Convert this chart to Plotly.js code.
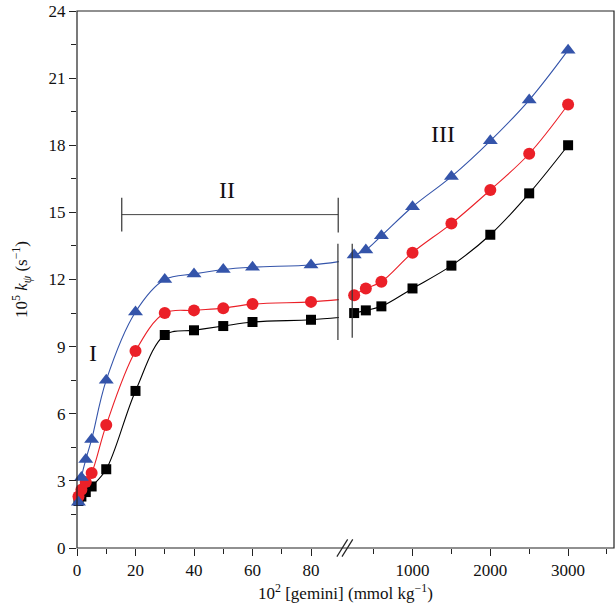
<!DOCTYPE html>
<html>
<head>
<meta charset="utf-8">
<script src="https://cdn.plot.ly/plotly-3.0.1.min.js"></script>
<style>html,body{margin:0;padding:0;background:#fff;}#chart{width:616px;height:606px;}</style>
</head>
<body>
<div id="chart"></div>
<script>
// ---- data ----
// left segment: 10^2 [gemini] 0..90
const xLeft = [0.5, 1.5, 3, 5, 10, 20, 30, 40, 50, 60, 80];
const triLeft = [2.05, 3.15, 3.95, 4.85, 7.5, 10.55, 12.0, 12.25, 12.45, 12.55, 12.65];
const cirLeft = [2.3, 2.6, 2.95, 3.35, 5.5, 8.8, 10.5, 10.62, 10.72, 10.9, 11.0];
const sqLeft  = [2.1, 2.3, 2.5, 2.75, 3.52, 7.02, 9.52, 9.73, 9.92, 10.1, 10.2];
// fitted curves continue to the break
const xLeftEnd = 89.5;
const triLeftEnd = 12.8, cirLeftEnd = 11.1, sqLeftEnd = 10.3;
// right segment
const xRight = [250, 400, 600, 1000, 1500, 2000, 2500, 3000];
const triRight = [13.1, 13.32, 13.95, 15.25, 16.6, 18.2, 20.02, 22.25];
const cirRight = [11.3, 11.6, 11.9, 13.2, 14.5, 16.0, 17.62, 19.82];
const sqRight  = [10.5, 10.62, 10.8, 11.6, 12.62, 14.0, 15.85, 18.0];

const blue = 'rgb(52,84,170)';
const red = 'rgb(235,32,40)';
const black = '#000';

function lineTrace(x, y, color, xa) {
  return {x: x, y: y, xaxis: xa, yaxis: 'y', mode: 'lines', type: 'scatter',
          line: {color: color, width: 1.1, shape: 'spline', smoothing: 1}, hoverinfo: 'skip', showlegend: false};
}
function markTrace(x, y, color, symbol, size, xa) {
  return {x: x, y: y, xaxis: xa, yaxis: 'y', mode: 'markers', type: 'scatter',
          marker: {color: color, symbol: symbol, size: size, line: {width: 0}}, showlegend: false, cliponaxis: false};
}

const traces = [
  lineTrace(xLeft.concat([xLeftEnd]), sqLeft.concat([sqLeftEnd]), black, 'x'),
  lineTrace(xLeft.concat([xLeftEnd]), cirLeft.concat([cirLeftEnd]), red, 'x'),
  lineTrace(xLeft.concat([xLeftEnd]), triLeft.concat([triLeftEnd]), blue, 'x'),
  lineTrace(xRight, sqRight, black, 'x2'),
  lineTrace(xRight, cirRight, red, 'x2'),
  lineTrace(xRight, triRight, blue, 'x2'),
  markTrace(xLeft, sqLeft, black, 'square', 10, 'x'),
  markTrace(xLeft, cirLeft, red, 'circle', 12, 'x'),
  markTrace(xLeft, triLeft, blue, 'triangle-up', 13, 'x'),
  markTrace(xRight, sqRight, black, 'square', 10, 'x2'),
  markTrace(xRight, cirRight, red, 'circle', 12, 'x2'),
  markTrace(xRight, triRight, blue, 'triangle-up', 13, 'x2')
];

const serif = 'Liberation Serif, Times New Roman, serif';
const tickFont = {family: serif, size: 17, color: '#111'};
const split = 0.4886;

const layout = {
  width: 616, height: 606,
  margin: {l: 77, r: 2, t: 11, b: 58},
  paper_bgcolor: '#fff', plot_bgcolor: '#fff',
  showlegend: false,
  xaxis: {domain: [0, split], range: [0, 89.7], tickvals: [0, 20, 40, 60, 80],
          ticks: 'outside', ticklen: 7, tickcolor: '#222', tickwidth: 1,
          minor: {tickvals: [10, 30, 50, 70], ticks: 'outside', ticklen: 5, tickcolor: '#222', showgrid: false},
          showline: false, showgrid: false, zeroline: false, tickfont: tickFont, anchor: 'y'},
  xaxis2: {domain: [split, 1], range: [60, 3590], tickvals: [1000, 2000, 3000],
          ticks: 'outside', ticklen: 7, tickcolor: '#222', tickwidth: 1,
          minor: {tickvals: [500, 1500, 2500, 3500], ticks: 'outside', ticklen: 5, tickcolor: '#222', showgrid: false},
          showline: false, showgrid: false, zeroline: false, tickfont: tickFont, anchor: 'y'},
  yaxis: {range: [0, 24], dtick: 3, tick0: 0, ticks: 'outside', ticklen: 7, tickcolor: '#222', tickwidth: 1,
          minor: {dtick: 1.5, ticks: 'outside', ticklen: 5, tickcolor: '#222', showgrid: false},
          showline: false, showgrid: false, zeroline: false, tickfont: tickFont,
          title: {text: '10<sup>5</sup> <i>k</i><sub><i>ψ</i></sub> (s<sup>−1</sup>)', font: {family: serif, size: 17, color: '#111'}, standoff: 16}},
  shapes: [
    {type: 'rect', xref: 'paper', yref: 'paper', x0: 0, x1: 1, y0: 0, y1: 1, line: {color: '#222', width: 1.2}},
    // axis break slashes
    {type: 'line', xref: 'paper', yref: 'paper', x0: 0.4840, x1: 0.5040, y0: -0.016, y1: 0.016, line: {color: '#222', width: 1.2}},
    {type: 'line', xref: 'paper', yref: 'paper', x0: 0.4935, x1: 0.5135, y0: -0.016, y1: 0.016, line: {color: '#222', width: 1.2}},
    // vertical break lines in data
    {type: 'line', xref: 'x', yref: 'y', x0: 89.2, x1: 89.2, y0: 9.3, y1: 13.6, line: {color: '#333', width: 1.2}},
    {type: 'line', xref: 'x2', yref: 'y', x0: 225, x1: 225, y0: 9.4, y1: 13.6, line: {color: '#333', width: 1.2}},
    // region II bar
    {type: 'line', xref: 'x', yref: 'y', x0: 15.3, x1: 89.3, y0: 14.9, y1: 14.9, line: {color: '#444', width: 1}},
    {type: 'line', xref: 'x', yref: 'y', x0: 15.3, x1: 15.3, y0: 14.15, y1: 15.65, line: {color: '#333', width: 1.2}},
    {type: 'line', xref: 'x', yref: 'y', x0: 89.3, x1: 89.3, y0: 14.1, y1: 15.65, line: {color: '#333', width: 1.2}}
  ],
  annotations: [
    {xref: 'x', yref: 'y', x: 5.4, y: 8.7, text: 'I', showarrow: false, font: {family: serif, size: 24, color: '#111'}},
    {xref: 'x', yref: 'y', x: 51.2, y: 16.0, text: 'II', showarrow: false, font: {family: serif, size: 24, color: '#111'}},
    {xref: 'x2', yref: 'y', x: 1395, y: 18.5, text: 'III', showarrow: false, font: {family: serif, size: 24, color: '#111'}},
    {xref: 'paper', yref: 'paper', x: 0.5, y: -0.058, yanchor: 'top', text: '10<sup>2</sup> [gemini] (mmol kg<sup>−1</sup>)', showarrow: false, font: {family: serif, size: 17, color: '#111'}}
  ]
};

Plotly.newPlot('chart', traces, layout, {displayModeBar: false, staticPlot: true});
</script>
</body>
</html>
